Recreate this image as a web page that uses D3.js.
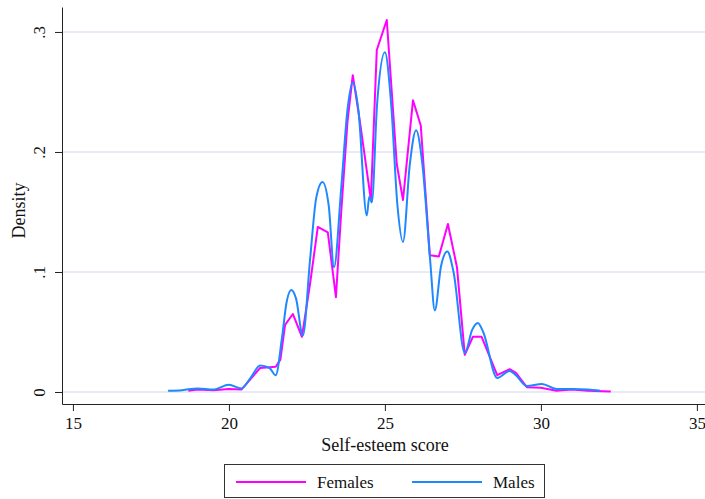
<!DOCTYPE html>
<html>
<head>
<meta charset="utf-8">
<script src="https://cdn.jsdelivr.net/npm/d3@7"></script>
<style>
  body { margin: 0; background: #fff; }
  svg { display: block; font-family: "Liberation Serif", serif; }
  .grid line { stroke: #e1e5ef; stroke-width: 1.6; }
  .axis path, .axis line { stroke: #222; }
</style>
</head>
<body>
<div id="chart"></div>
<script>
const width = 705;
const height = 499;

// kernel density estimates
const femaleScore = [18.7, 19.0, 19.5, 20.0, 20.4, 20.7, 21.0, 21.5, 21.65, 21.8, 22.05, 22.34, 22.6, 22.85, 23.17, 23.43,
    23.6, 23.8, 23.97, 24.2, 24.55, 24.74, 25.06, 25.38, 25.58, 25.9, 26.15, 26.44, 26.73, 27.02, 27.31, 27.56,
    27.82, 28.1, 28.6, 29.0, 29.2, 29.55, 30.0, 30.5, 31.0, 31.5, 32.24];
const femaleDensity = [0.001, 0.002, 0.0015, 0.0025, 0.002, 0.011, 0.02, 0.021, 0.027, 0.056, 0.065, 0.046, 0.09, 0.1375, 0.133, 0.079,
    0.15, 0.225, 0.264, 0.225, 0.16, 0.285, 0.31, 0.19, 0.16, 0.243, 0.222, 0.114, 0.113, 0.14, 0.104, 0.031,
    0.046, 0.046, 0.014, 0.019, 0.016, 0.004, 0.0035, 0.001, 0.002, 0.001, 0.0005];

const maleScore = [18.05, 18.5, 19.0, 19.5, 20.0, 20.4, 20.7, 21.0, 21.3, 21.5, 21.7, 21.85, 22.0, 22.15, 22.37, 22.6,
    22.8, 23.0, 23.2, 23.37, 23.6, 23.8, 23.97, 24.15, 24.42, 24.5, 24.58, 24.75, 25.0, 25.2, 25.4, 25.58,
    25.8, 26.0, 26.2, 26.45, 26.6, 26.8, 27.0, 27.2, 27.56, 27.8, 27.98, 28.15, 28.6, 29.0, 29.2, 29.55,
    30.03, 30.5, 31.0, 31.5, 31.9];
const maleDensity = [0.001, 0.0015, 0.003, 0.002, 0.006, 0.003, 0.012, 0.022, 0.02, 0.014, 0.045, 0.075, 0.085, 0.078, 0.047, 0.11,
    0.162, 0.175, 0.155, 0.104, 0.17, 0.235, 0.258, 0.235, 0.147, 0.163, 0.158, 0.24, 0.283, 0.24, 0.156, 0.125,
    0.19, 0.218, 0.19, 0.11, 0.068, 0.105, 0.117, 0.1, 0.0325, 0.052, 0.0575, 0.05, 0.0117, 0.0175, 0.014, 0.005,
    0.0067, 0.0025, 0.0025, 0.002, 0.001];

const xTicks = [15, 20, 25, 30, 35];
const yTicks = [0, 0.1, 0.2, 0.3];
const yTickLabels = ['0', '.1', '.2', '.3'];
const seriesNames = ['Females', 'Males'];
const colors = ['#ff00ff', '#1e88ff'];

const margin = {left: 62, right: 0, top: 7, bottom: 95};

const x = d3.scaleLinear().domain([14.65, 35.26]).range([margin.left, width - margin.right]);
const y = d3.scaleLinear().domain([-0.01, 0.3208]).range([height - margin.bottom, margin.top]);

const svg = d3.select('#chart')
    .append('svg')
    .attr('width', width)
    .attr('height', height);

// horizontal grid
svg.append('g')
    .attr('class', 'grid')
    .selectAll('line')
    .data(yTicks)
    .join('line')
    .attr('x1', x.range()[0] + 1)
    .attr('x2', x.range()[1])
    .attr('y1', d => y(d))
    .attr('y2', d => y(d));

const xAxis = svg.append('g')
    .attr('class', 'axis')
    .attr('transform', `translate(0,${y.range()[0]})`)
    .call(d3.axisBottom(x).tickValues(xTicks).tickSize(7).tickSizeOuter(0).tickPadding(6));
xAxis.selectAll('text').attr('font-size', 17).attr('fill', '#111').attr('font-family', 'Liberation Serif');

const yAxis = svg.append('g')
    .attr('class', 'axis')
    .attr('transform', `translate(${x.range()[0]},0)`)
    .call(d3.axisLeft(y).tickValues(yTicks).tickFormat((d, i) => yTickLabels[i]).tickSize(7).tickSizeOuter(0));
// vertical tick labels, like the Stata default
yAxis.selectAll('text')
    .attr('font-size', 17)
    .attr('fill', '#111')
    .attr('font-family', 'Liberation Serif')
    .attr('text-anchor', 'middle')
    .attr('x', null)
    .attr('dy', '0.35em')
    .attr('transform', 'translate(-23,0) rotate(-90)');

// axis titles
svg.append('text')
    .attr('x', 385)
    .attr('y', 451)
    .attr('text-anchor', 'middle')
    .attr('font-size', 18)
    .attr('fill', '#111')
    .text('Self-esteem score');

svg.append('text')
    .attr('transform', `translate(25,${(y.range()[0] + y.range()[1]) / 2 + 5}) rotate(-90)`)
    .attr('text-anchor', 'middle')
    .attr('font-size', 18)
    .attr('fill', '#111')
    .text('Density');

// density curves
const line = d3.line()
    .x(d => x(d[0]))
    .y(d => y(d[1]));

const females = d3.zip(femaleScore, femaleDensity);
const males = d3.zip(maleScore, maleDensity);

svg.append('path')
    .datum(females)
    .attr('fill', 'none')
    .attr('stroke', colors[0])
    .attr('stroke-width', 2)
    .attr('stroke-linejoin', 'round')
    .attr('d', line.curve(d3.curveLinear));

svg.append('path')
    .datum(males)
    .attr('fill', 'none')
    .attr('stroke', colors[1])
    .attr('stroke-width', 2)
    .attr('stroke-linejoin', 'round')
    .attr('d', line.curve(d3.curveMonotoneX));

// legend
const legend = svg.append('g');
legend.append('rect')
    .attr('x', 224.5)
    .attr('y', 464.5)
    .attr('width', 320)
    .attr('height', 33)
    .attr('fill', '#fff')
    .attr('stroke', '#333');

const legendX = [236, 412];
const item = legend.selectAll('g.item')
    .data(seriesNames)
    .join('g')
    .attr('class', 'item')
    .attr('transform', (d, i) => `translate(${legendX[i]},482)`);

item.append('line')
    .attr('x1', 0)
    .attr('x2', 70)
    .attr('stroke', (d, i) => colors[i])
    .attr('stroke-width', 2);

item.append('text')
    .attr('x', 81)
    .attr('y', 6)
    .attr('font-size', 17)
    .attr('fill', '#111')
    .text(d => d);
</script>
</body>
</html>
